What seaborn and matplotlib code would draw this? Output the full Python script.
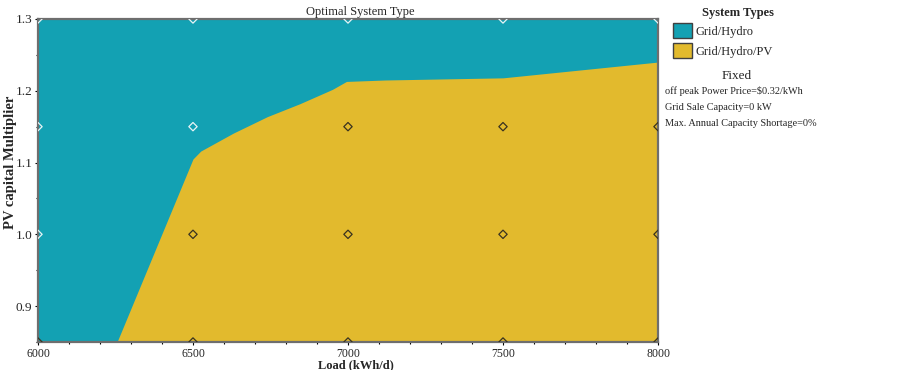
import matplotlib
matplotlib.use("Agg")
import matplotlib.pyplot as plt
import matplotlib.patches as mpatches
import numpy as np
import pandas as pd
import seaborn as sns

# Colors
teal = '#13a1b3'
gold = '#e2ba2d'

# Boundary between Grid/Hydro (above) and Grid/Hydro/PV (below)
boundary_load = [6255, 6500, 6525, 6630, 6740, 6845, 6950, 6995, 7120, 7500, 7750, 8000]
boundary_mult = [0.85, 1.105, 1.116, 1.141, 1.164, 1.182, 1.202, 1.213, 1.215, 1.218, 1.229, 1.240]

# Sensitivity cases (grid of simulated points)
case_load = [6000, 6500, 7000, 7500, 8000]
case_mult = [0.85, 1.00, 1.15, 1.30]

type_names = ['Grid/Hydro', 'Grid/Hydro/PV']
fixed_lines = ['off peak Power Price=$0.32/kWh',
               'Grid Sale Capacity=0 kW',
               'Max. Annual Capacity Shortage=0%']

# Build marker table
pts = pd.DataFrame([(x, y) for x in case_load for y in case_mult], columns=['load', 'mult'])
pts['type'] = np.where(pts['mult'] > np.interp(pts['load'], boundary_load, boundary_mult),
                       type_names[0], type_names[1])

sns.set_style('ticks')
plt.rcParams['font.family'] = ['Liberation Serif', 'DejaVu Serif']

fig = plt.figure(figsize=(9.02, 3.70), dpi=100)
ax = fig.add_axes([0.0421, 0.0757, 0.6874, 0.873])
ax.set_facecolor(teal)

ax.fill_between(boundary_load, 0.85, boundary_mult, color=gold, lw=0)

sns.scatterplot(data=pts, x='load', y='mult', hue='type', ax=ax, marker='D', s=18,
                palette={type_names[0]: 'none', type_names[1]: 'none'},
                legend=False, zorder=5)
edge = ['#e8f4f6' if t == type_names[0] else '#3a3320' for t in pts['type']]
ax.collections[-1].set_edgecolors(edge)
ax.collections[-1].set_facecolors('none')
ax.collections[-1].set_linewidths(0.9)

ax.set_xlim(6000, 8000)
ax.set_ylim(0.85, 1.3)
ax.set_xticks([6000, 6500, 7000, 7500, 8000])
ax.set_yticks([0.9, 1.0, 1.1, 1.2, 1.3])
ax.set_xticks(np.arange(6000, 8001, 100), minor=True)
ax.set_yticks(np.arange(0.85, 1.301, 0.05), minor=True)
ax.tick_params(axis='both', which='both', direction='out', length=2.5, width=0.8,
               color='black', pad=2)
ax.tick_params(axis='x', labelsize=8.5)
ax.tick_params(axis='y', labelsize=9.5, pad=1.5)
ax.tick_params(axis='both', which='minor', length=1.5)
for s in ax.spines.values():
    s.set_color('#6e6e6e')
    s.set_linewidth(1.6)

ax.set_xlabel('Load (kWh/d)', fontsize=9, fontweight='bold')
ax.set_ylabel('PV capital Multiplier', fontsize=10.5, fontweight='bold')
ax.xaxis.set_label_coords(0.513, -0.055)
ax.yaxis.set_label_coords(-0.034, 0.555)
ax.set_title('Optimal System Type', fontsize=9, x=0.52, pad=3)

handles = [mpatches.Patch(facecolor=teal, edgecolor='#404040', lw=1.0, label=type_names[0]),
           mpatches.Patch(facecolor=gold, edgecolor='#404040', lw=1.0, label=type_names[1])]
fig.legend(handles=handles, loc='upper left', bbox_to_anchor=(0.746, 0.938),
           frameon=False, fontsize=9, handlelength=1.55, handleheight=1.45,
           handletextpad=0.25, labelspacing=0.45, borderaxespad=0, borderpad=0)

fig.text(0.818, 0.964, 'System Types', ha='center', va='center', fontsize=9, fontweight='bold')
fig.text(0.817, 0.795, 'Fixed', ha='center', va='center', fontsize=9.5)
for i, line in enumerate(fixed_lines):
    fig.text(0.737, 0.754 - i * 0.0435, line, ha='left', va='center', fontsize=7.4)

fig.savefig('out.png', dpi=100)
